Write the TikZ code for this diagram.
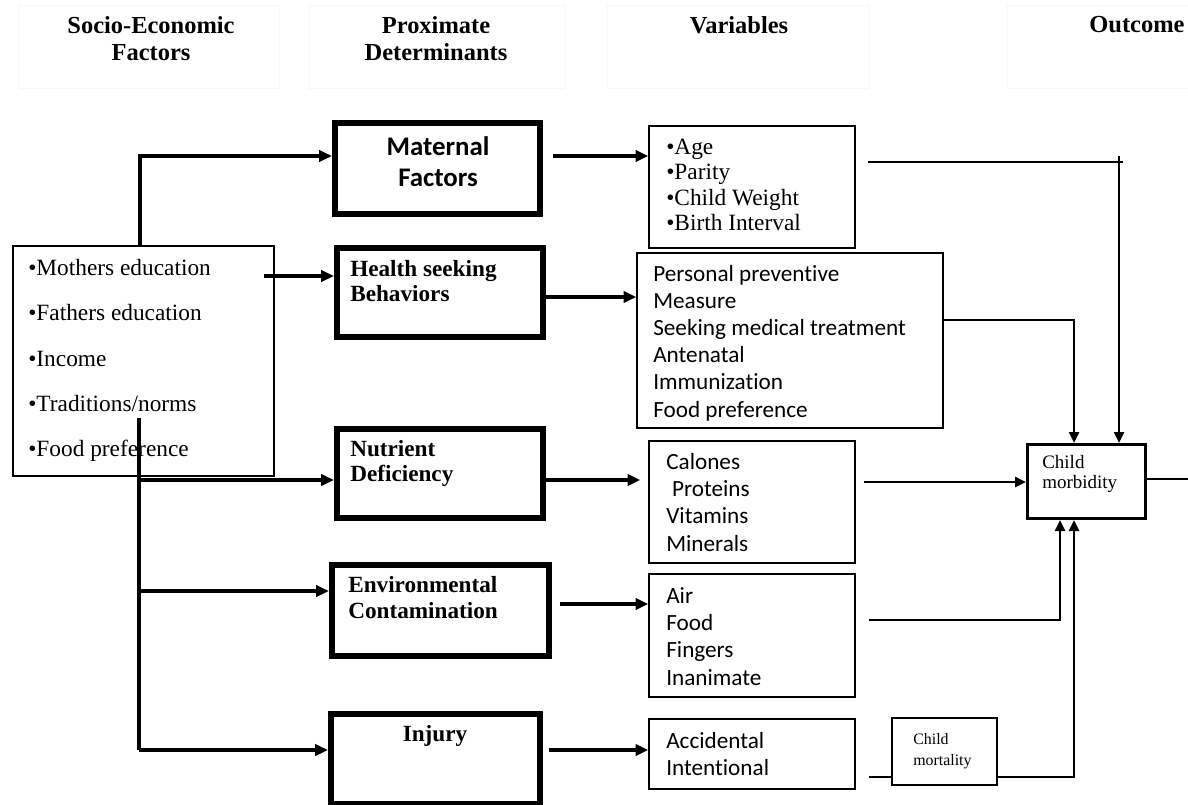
\documentclass[tikz,border=0pt]{standalone}
\usepackage{fontspec}
\setmainfont{Liberation Serif}
\newfontfamily\califont[Ligatures=NoCommon]{Carlito}
\usetikzlibrary{arrows.meta}

\begin{document}
\begin{tikzpicture}[x=0.025cm,y=-0.025cm,
    probox/.style={draw,line width=4.3pt,inner sep=0pt},
    varbox/.style={draw,line width=0.95pt,inner sep=0pt},
    hdrbox/.style={draw=black!3,line width=0.6pt},
    lbl/.style={inner sep=0pt,align=left},
    hdr/.style={inner sep=0pt,anchor=north,align=center,font=\fontsize{17.4}{19.1}\selectfont\bfseries},
    thk/.style={line width=2.5pt,-{Triangle[length=0.32cm,width=0.28cm]}},
    thn/.style={line width=0.95pt},
    thnarr/.style={thn,-{Triangle[length=0.27cm,width=0.26cm]}}]
  \useasboundingbox (0,0) rectangle (1188,804);

  % headings
  \draw[hdrbox] (19,5) rectangle (279,88);
  \draw[hdrbox] (308,5) rectangle (564,88);
  \draw[hdrbox] (607,5) rectangle (868,88);
  \draw[hdrbox] (1007,5) rectangle (1195,88);
  \node[hdr] (hsoc) at (151,16) {Socio-Economic\\Factors};
  \node[hdr] (hprox) at (436,16) {Proximate\\Determinants};
  \node[hdr] (hvar) at (739,16) {Variables};
  \node[hdr] (hout) at (1137,16) {Outcome};

  % socio-economic factors
  \node[draw,line width=1.8pt,minimum width=6.525cm,minimum height=5.75cm] (se) at (143.5,361) {};
  \node[lbl,anchor=north west,font=\fontsize{16.6}{32.2}\selectfont] (setxt) at (28,259)
    {•Mothers education\\•Fathers education\\•Income\\•Traditions/norms\\•Food preference};

  % proximate determinants
  \node[probox,minimum width=5.125cm,minimum height=2.275cm] (mf) at (437.5,168.5) {};
  \node[inner sep=0pt,align=center,font=\fontsize{19.1}{22}\califont\bfseries] (mftxt) at (438,162) {Maternal\\Factors};
  \node[probox,minimum width=5.15cm,minimum height=2.225cm] (hs) at (440,292.5) {};
  \node[lbl,anchor=north west,font=\fontsize{16.5}{17.9}\selectfont\bfseries] (hstxt) at (350,260) {Health seeking\\Behaviors};
  \node[probox,minimum width=5.15cm,minimum height=2.225cm] (nd) at (440,473.5) {};
  \node[lbl,anchor=north west,font=\fontsize{16.5}{17.9}\selectfont\bfseries] (ndtxt) at (350,440) {Nutrient\\Deficiency};
  \node[probox,minimum width=5.425cm,minimum height=2.275cm] (ec) at (440.5,610.5) {};
  \node[lbl,anchor=north west,font=\fontsize{16.5}{18.4}\selectfont\bfseries] (ectxt) at (348,576) {Environmental\\Contamination};
  \node[probox,minimum width=5.225cm,minimum height=2.25cm] (inj) at (435.5,759) {};
  \node[inner sep=0pt,anchor=base,font=\fontsize{16.5}{17.9}\selectfont\bfseries] (injtxt) at (435,741) {Injury};

  % variables
  \node[varbox,minimum width=5.15cm,minimum height=3.05cm] (mv) at (752,187) {};
  \node[lbl,anchor=north west,font=\fontsize{16.6}{17.9}\selectfont] (mvtxt) at (666,139)
    {•Age\\•Parity\\•Child Weight\\•Birth Interval};
  \node[varbox,line width=0.85pt,minimum width=7.65cm,minimum height=4.375cm] (hv) at (790,340.5) {};
  \node[lbl,anchor=north west,font=\fontsize{16.5}{19.3}\califont] (hvtxt) at (653,265)
    {Personal preventive\\Measure\\Seeking medical treatment\\Antenatal\\Immunization\\Food preference};
  \node[varbox,minimum width=5.15cm,minimum height=3.05cm] (nv) at (752,502) {};
  \node[lbl,anchor=north west,font=\fontsize{16.5}{19.4}\califont] (nvtxt) at (666,453)
    {Calones\\\hspace{0.25em}Proteins\\Vitamins\\Minerals};
  \node[varbox,minimum width=5.15cm,minimum height=3.075cm] (ev) at (752,635.5) {};
  \node[lbl,anchor=north west,font=\fontsize{16.5}{19.4}\califont] (evtxt) at (666,587)
    {Air\\Food\\Fingers\\Inanimate};
  \node[varbox,minimum width=5.15cm,minimum height=1.75cm] (iv) at (752,754) {};
  \node[lbl,anchor=north west,font=\fontsize{16.5}{19.1}\califont] (ivtxt) at (666,732)
    {Accidental\\Intentional};

  % outcome
  \node[draw,line width=2.4pt,minimum width=2.95cm,minimum height=1.85cm] (cm) at (1086.5,481.5) {};
  \node[lbl,anchor=north west,font=\fontsize{13.5}{14.2}\selectfont] (cmtxt) at (1042,455) {Child\\morbidity};
  \node[draw,line width=1.4pt,minimum width=2.625cm,minimum height=1.675cm] (ct) at (944.5,751.5) {};
  \node[lbl,anchor=north west,font=\fontsize{11.3}{14.9}\selectfont] (cttxt) at (913,733) {Child\\mortality};

  % free ends
  \coordinate (hsrc) at (264,276);
  \coordinate (ttop) at (139,418);
  \coordinate (tbot) at (139,750);
  \coordinate (mcross) at (1123,162);
  \coordinate (mdrop) at (1119,156);
  \coordinate (cmout) at (1199,479);

  % socio-economic to proximate
  \draw[thk] (se.north -| 140,0) |- (mf.west |- 0,156);
  \draw[thk] (hsrc) -- (hs.west |- hsrc);
  \draw[line width=2.5pt] (ttop) -- (tbot);
  \draw[thk] (ttop |- 0,480) -- (nd.west |- 0,480);
  \draw[thk] (ttop |- 0,591) -- (ec.west |- 0,591);
  \draw[thk] (tbot) -- (inj.west |- tbot);

  % proximate to variables
  \draw[thk,shorten <=0.25cm] (mf.east |- 0,156) -- (mv.west |- 0,156);
  \draw[thk] (hs.east |- 0,297) -- (hv.west |- 0,297);
  \draw[thk,shorten >=0.2cm] (nd.east |- 0,480) -- (nv.west |- 0,480);
  \draw[thk,shorten <=0.2cm] (ec.east |- 0,604) -- (ev.west |- 0,604);
  \draw[thk,shorten <=0.15cm] (inj.east |- 0,750) -- (iv.west |- 0,750);

  % variables to outcome
  \draw[thn,shorten <=0.3cm] (mv.east |- mcross) -- (mcross);
  \draw[thnarr] (mdrop) -- (cm.north -| mdrop);
  \draw[thnarr] (hv.east |- 0,320) -| (cm.north -| 1074,0);
  \draw[thnarr,shorten <=0.2cm] (nv.east |- 0,482) -- (cm.west |- 0,482);
  \draw[thnarr,shorten <=0.33cm] (ev.east |- 0,620) -| (cm.south -| 1060,0);
  \draw[thn,shorten <=0.33cm] (iv.east |- 0,777) -- (ct.west |- 0,777);
  \draw[thnarr] (ct.east |- 0,777) -| (cm.south -| 1074,0);
  \draw[thnarr] (cm.east |- cmout) -- (cmout);
\end{tikzpicture}
\end{document}
